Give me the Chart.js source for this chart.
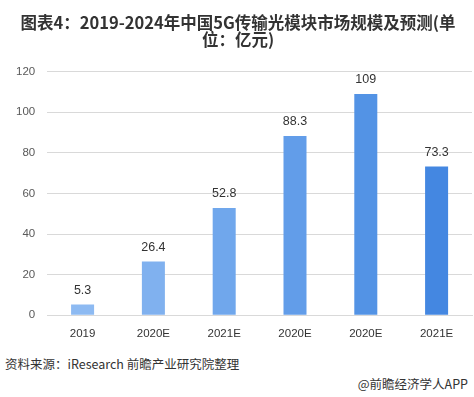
<!DOCTYPE html>
<html>
<head>
<meta charset="utf-8">
<script src="https://cdn.jsdelivr.net/npm/chart.js@4"></script>
<style>
html,body{margin:0;padding:0;background:#fff;}
#wrap{position:relative;width:474px;height:397px;}
canvas{position:absolute;left:0;top:0;}
.src{position:absolute;font-family:"Noto Sans CJK SC","Liberation Sans",sans-serif;font-size:12.5px;color:#333;white-space:nowrap;}
</style>
</head>
<body>
<div id="wrap">
<canvas id="c" width="474" height="345"></canvas>
<div class="src" style="left:5px;top:354px;">资料来源：iResearch 前瞻产业研究院整理</div>
<div class="src" style="right:6px;top:374px;">@前瞻经济学人APP</div>
</div>
<script>
const titleLines = ["图表4：2019-2024年中国5G传输光模块市场规模及预测(单", "位：亿元)"];
const categories = ["2019", "2020E", "2021E", "2020E", "2020E", "2021E"];
const values = [5.3, 26.4, 52.8, 88.3, 109, 73.3];
const barColors = ["#8dbaf2", "#80b1ef", "#70a7ec", "#629de9", "#5393e5", "#4487e1"];
const yTicks = [0, 20, 40, 60, 80, 100, 120];

const labelPlugin = {
  id: 'valLabels',
  afterDatasetsDraw(chart) {
    const ctx = chart.ctx;
    const meta = chart.getDatasetMeta(0);
    ctx.save();
    ctx.font = '12.5px "Liberation Sans", sans-serif';
    ctx.fillStyle = '#333';
    ctx.textAlign = 'center';
    ctx.textBaseline = 'bottom';
    meta.data.forEach((bar, i) => {
      ctx.fillText(String(values[i]), bar.x, bar.y - 8);
    });
    ctx.restore();
  }
};

new Chart(document.getElementById('c'), {
  type: 'bar',
  data: {
    labels: categories,
    datasets: [{
      data: values,
      backgroundColor: barColors,
      barPercentage: 0.65,
      categoryPercentage: 0.5
    }]
  },
  options: {
    responsive: false,
    animation: false,
    layout: { padding: { left: 4, right: 2, top: 0, bottom: 0 } },
    plugins: {
      legend: { display: false },
      tooltip: { enabled: false },
      title: {
        display: true,
        text: titleLines,
        color: '#333',
        font: { family: '"Noto Sans CJK SC", sans-serif', size: 16.5, weight: 'bold', lineHeight: 1.05 },
        padding: { top: 14, bottom: 23 }
      }
    },
    scales: {
      x: {
        grid: { display: false },
        border: { display: true, color: '#d9d9d9' },
        ticks: { color: '#333', font: { family: '"Liberation Sans", sans-serif', size: 11.5 }, padding: 4 }
      },
      y: {
        min: 0, max: 120,
        afterBuildTicks(axis) { axis.ticks = yTicks.map(v => ({ value: v })); },
        grid: { color: '#d9d9d9', drawTicks: false },
        border: { display: false },
        ticks: { color: '#595959', font: { family: '"Liberation Sans", sans-serif', size: 11.5 }, padding: 12 }
      }
    }
  },
  plugins: [labelPlugin]
});
</script>
</body>
</html>
